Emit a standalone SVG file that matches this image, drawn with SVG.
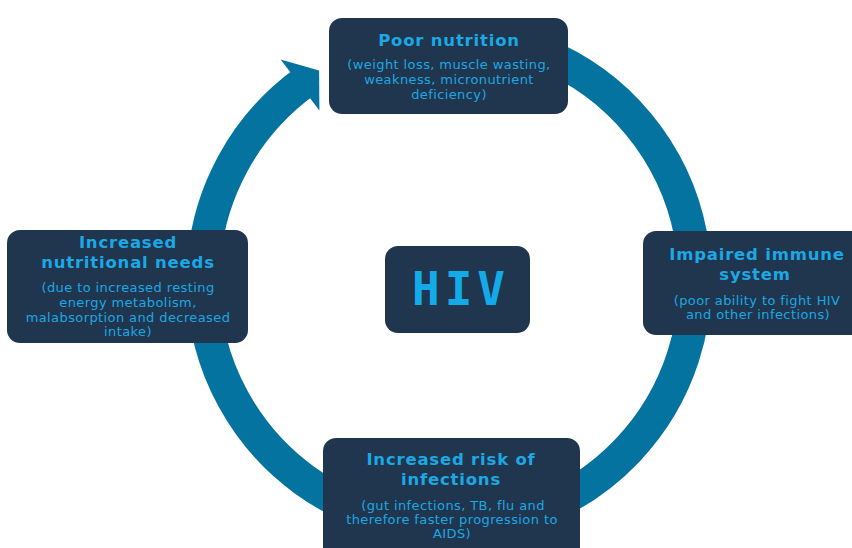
<svg xmlns="http://www.w3.org/2000/svg" width="852" height="548" viewBox="0 0 852 548">
<style>
.box{fill:#20364e;}
.t{font-family:"DejaVu Sans","Liberation Sans",sans-serif;font-weight:bold;font-size:16.5px;fill:#1ba8e4;text-anchor:middle;letter-spacing:0.8px;}
.s{font-family:"DejaVu Sans","Liberation Sans",sans-serif;font-size:13px;fill:#1ba8e4;text-anchor:middle;letter-spacing:0.4px;}
.hiv{font-family:"DejaVu Sans Mono","Liberation Mono",monospace;font-weight:bold;font-size:46px;fill:#12aae8;text-anchor:middle;letter-spacing:5px;}
.ring{fill:none;stroke:#0573a0;stroke-width:33;}
</style>
<rect width="852" height="548" fill="#ffffff"/>
<g id="connectors">
<path class="ring" d="M 449 35 A 246 246 0 1 1 304.4 82"/>
<polygon points="280.6,59.5 319.4,110.5 319.1,70.5" fill="#0573a0"/>
</g>
<g id="poor-nutrition">
<rect class="box" x="329" y="18" width="239" height="96" rx="13"/>
<text class="t" x="449" y="46">Poor nutrition</text>
<text class="s" x="449" y="69">(weight loss, muscle wasting,</text>
<text class="s" x="449" y="84">weakness, micronutrient</text>
<text class="s" x="449" y="99">deficiency)</text>
</g>
<g id="impaired-immune">
<rect class="box" x="643" y="231" width="222" height="104" rx="13"/>
<text class="t" x="757" y="260">Impaired immune</text>
<text class="t" x="755" y="280">system</text>
<text class="s" x="757" y="305">(poor ability to fight HIV</text>
<text class="s" x="758" y="319">and other infections)</text>
</g>
<g id="increased-risk">
<rect class="box" x="323" y="438" width="257" height="125" rx="13"/>
<text class="t" x="451" y="465">Increased risk of</text>
<text class="t" x="451" y="485">infections</text>
<text class="s" x="453" y="510">(gut infections, TB, flu and</text>
<text class="s" x="452" y="524">therefore faster progression to</text>
<text class="s" x="452" y="538">AIDS)</text>
</g>
<g id="increased-needs">
<rect class="box" x="7" y="230" width="241" height="113" rx="13"/>
<text class="t" x="128" y="248">Increased</text>
<text class="t" x="128" y="268">nutritional needs</text>
<text class="s" x="128" y="292">(due to increased resting</text>
<text class="s" x="128" y="307">energy metabolism,</text>
<text class="s" x="128" y="322">malabsorption and decreased</text>
<text class="s" x="128" y="336">intake)</text>
</g>
<g id="hiv">
<rect class="box" x="385" y="246" width="145" height="87" rx="13"/>
<text class="hiv" x="461" y="305">HIV</text>
</g>
</svg>
